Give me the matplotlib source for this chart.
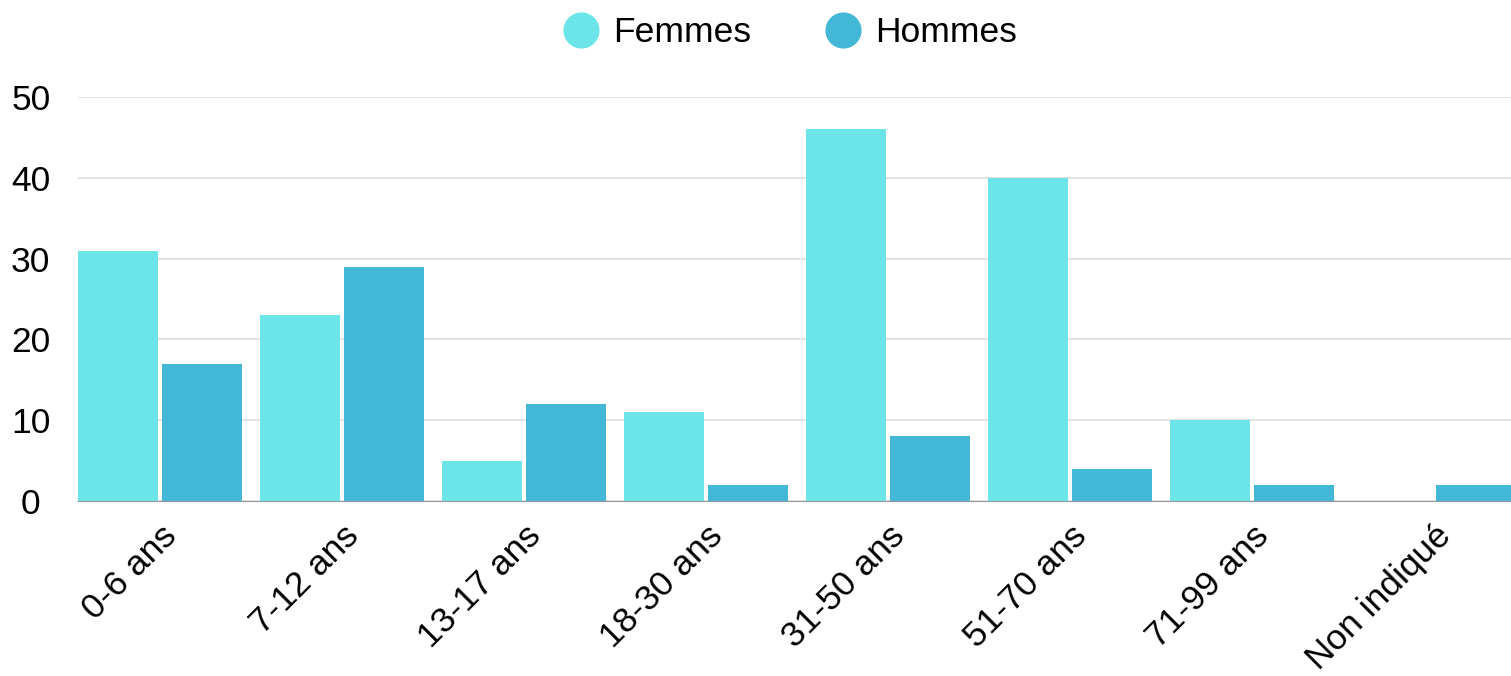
import matplotlib.pyplot as plt
import numpy as np
from matplotlib.lines import Line2D

plt.rcParams['font.family'] = ['Liberation Sans', 'DejaVu Sans']

categories = ["0-6 ans", "7-12 ans", "13-17 ans", "18-30 ans",
              "31-50 ans", "51-70 ans", "71-99 ans", "Non indiqué"]
femmes = [31, 23, 5, 11, 46, 40, 10, 0]
hommes = [17, 29, 12, 2, 8, 4, 2, 2]

c_f = "#6be5e8"
c_h = "#42b8d6"

fig = plt.figure(figsize=(15.11, 6.76), dpi=100)
ax = fig.add_axes([78 / 1511, 175 / 676, 1 - 78 / 1511, 404 / 676])

x = np.arange(len(categories))
w = 0.44
off = 0.232
ax.bar(x - off, femmes, w, color=c_f, zorder=3)
ax.bar(x + off, hommes, w, color=c_h, zorder=3)

ax.set_xlim(-0.452, 7.423)
ax.set_ylim(0, 50)
ax.set_yticks([0, 10, 20, 30, 40, 50])
ax.yaxis.grid(True, color="#dddddd", linewidth=1.2, zorder=0)
ax.tick_params(axis="y", length=0, labelsize=25.5, pad=34)
ax.tick_params(axis="x", length=0, labelsize=25.5, pad=13)
ax.set_xticks(x)
ax.set_xticklabels(categories, rotation=45, ha="right", rotation_mode="anchor")
for lbl in ax.get_yticklabels():
    lbl.set_horizontalalignment("center")
for s in ["top", "right", "left"]:
    ax.spines[s].set_visible(False)
ax.spines["bottom"].set_color("#999999")
ax.spines["bottom"].set_zorder(4)

handles = [Line2D([], [], marker="o", linestyle="", markersize=25, color=c_f),
           Line2D([], [], marker="o", linestyle="", markersize=25, color=c_h)]
fig.legend(handles, ["Femmes", "Hommes"], loc="center", bbox_to_anchor=(781 / 1511, 1 - 33 / 676),
           ncol=2, frameon=False, fontsize=25.5, handletextpad=-0.1, columnspacing=1.6)

fig.savefig("out.png", dpi=100)
